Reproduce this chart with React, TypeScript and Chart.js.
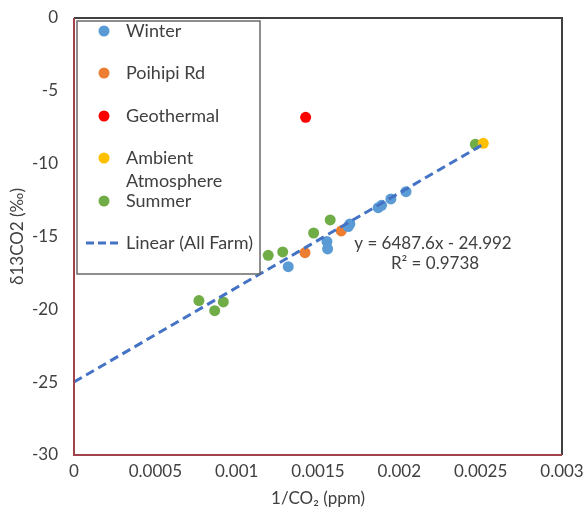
import React, { useEffect, useRef } from 'react';
import { Chart, registerables } from 'chart.js';

Chart.register(...registerables);

// ---- data ----
const winterX = [0.001317, 0.001555, 0.001559, 0.001686, 0.001696, 0.00187, 0.001891, 0.001948, 0.002041];
const winterY = [-17.07, -15.35, -15.85, -14.32, -14.14, -13.02, -12.86, -12.42, -11.92];

const poihipiX = [0.00142, 0.001643];
const poihipiY = [-16.11, -14.62];

const geothermalX = [0.001424];
const geothermalY = [-6.82];

const ambientX = [0.002516];
const ambientY = [-8.6];

const summerX = [0.000768, 0.000865, 0.000918, 0.001194, 0.001283, 0.001473, 0.001575, 0.002467];
const summerY = [-19.4, -20.09, -19.49, -16.29, -16.06, -14.76, -13.86, -8.67];

const trendX = [0, 0.00252];
const trendY = [-24.99, -8.64];

const seriesNames = ['Winter', 'Poihipi Rd', 'Geothermal', 'Ambient Atmosphere', 'Summer', 'Linear (All Farm)'];
const xTickLabels = ['0', '0.0005', '0.001', '0.0015', '0.002', '0.0025', '0.003'];
const yTickLabels = ['-30', '-25', '-20', '-15', '-10', '-5', '0'];
const xTitle = '1/CO\u2082 (ppm)';
const yTitle = '\u03B413CO2 (\u2030)';
const equationLines = ['y = 6487.6x - 24.992', 'R\u00B2 = 0.9738'];

const colors = ['#5B9BD5', '#ED7D31', '#FF0000', '#FFC000', '#70AD47', '#4472C4'];

const FONT = "Lato, 'Open Sans', 'DejaVu Sans', sans-serif";
const TEXT = '#404040';

const zip = (xs: number[], ys: number[]) => xs.map((x, i) => ({ x, y: ys[i] }));

const decorPlugin = {
  id: 'decor',
  afterDraw(chart: any) {
    const ctx = chart.ctx as CanvasRenderingContext2D;
    const xs = chart.scales.x;
    const ys = chart.scales.y;
    const left = xs.getPixelForValue(xs.min);
    const right = xs.getPixelForValue(xs.max);
    const top = ys.getPixelForValue(ys.max);
    const bottom = ys.getPixelForValue(ys.min);
    ctx.save();
    // top and right border
    ctx.strokeStyle = '#404040';
    ctx.lineWidth = 2;
    ctx.beginPath();
    ctx.moveTo(left, top);
    ctx.lineTo(right, top);
    ctx.lineTo(right, bottom);
    ctx.stroke();
    // left and bottom (axes)
    ctx.strokeStyle = '#A0434B';
    ctx.beginPath();
    ctx.moveTo(left, top);
    ctx.lineTo(left, bottom);
    ctx.lineTo(right, bottom);
    ctx.stroke();

    // legend box
    ctx.strokeStyle = '#6A6A6A';
    ctx.lineWidth = 1.5;
    ctx.strokeRect(77, 21, 183, 253);

    ctx.font = `18px ${FONT}`;
    ctx.fillStyle = TEXT;
    ctx.textBaseline = 'middle';
    ctx.textAlign = 'left';
    const rows = [31, 73, 116, 158, 201];
    rows.forEach((yy, i) => {
      ctx.fillStyle = colors[i];
      ctx.beginPath();
      ctx.arc(104, yy, 5.5, 0, Math.PI * 2);
      ctx.fill();
      ctx.fillStyle = TEXT;
      if (i === 3) {
        const parts = seriesNames[i].split(' ');
        ctx.fillText(parts[0], 126, yy);
        ctx.fillText(parts[1], 126, 181);
      } else {
        ctx.fillText(seriesNames[i], 126, yy);
      }
    });
    // linear entry
    ctx.strokeStyle = colors[5];
    ctx.lineWidth = 3;
    ctx.setLineDash([8, 4]);
    ctx.beginPath();
    ctx.moveTo(86, 243);
    ctx.lineTo(122, 243);
    ctx.stroke();
    ctx.setLineDash([]);
    ctx.fillStyle = TEXT;
    ctx.fillText(seriesNames[5], 126, 243);

    // equation
    ctx.font = `17px ${FONT}`;
    ctx.textAlign = 'center';
    ctx.fillText(equationLines[0], 433, 244);
    ctx.fillText(equationLines[1], 435, 264);
    ctx.restore();
  },
};

export default function App() {
  const ref = useRef<HTMLCanvasElement | null>(null);

  useEffect(() => {
    document.body.style.margin = '0';
    if (!ref.current) return;
    const pointDs = (i: number, xs: number[], ys: number[]) => ({
      label: seriesNames[i],
      data: zip(xs, ys),
      backgroundColor: colors[i],
      borderColor: colors[i],
      pointRadius: 5.5,
      pointBorderWidth: 0,
      showLine: false,
      order: 1,
    });
    const chart = new Chart(ref.current, {
      type: 'scatter',
      data: {
        datasets: [
          pointDs(0, winterX, winterY),
          pointDs(1, poihipiX, poihipiY),
          pointDs(2, geothermalX, geothermalY),
          pointDs(3, ambientX, ambientY),
          pointDs(4, summerX, summerY),
          {
            label: seriesNames[5],
            type: 'line',
            data: zip(trendX, trendY),
            borderColor: colors[5],
            borderWidth: 3,
            borderDash: [9, 5],
            pointRadius: 0,
            showLine: true,
            fill: false,
            order: 0,
          } as any,
        ],
      },
      options: {
        animation: false,
        responsive: false,
        maintainAspectRatio: false,
        layout: { padding: { left: 0, right: 23, top: 18, bottom: 0 } },
        plugins: {
          legend: { display: false },
          tooltip: { enabled: false },
        },
        scales: {
          x: {
            type: 'linear',
            min: 0,
            max: 0.003,
            grid: { display: false, drawTicks: false },
            border: { display: false },
            ticks: {
              stepSize: 0.0005,
              padding: 6,
              color: TEXT,
              font: { family: FONT, size: 17 },
              maxRotation: 0,
              callback: (_v: any, i: number) => xTickLabels[i],
            },
            title: {
              display: true,
              text: xTitle,
              color: TEXT,
              font: { family: FONT, size: 17 },
              padding: { top: 0, bottom: 7 },
            },
            afterFit: (s: any) => {
              s.height = 61;
              s.paddingLeft = 0;
              s.paddingRight = 0;
            },
          },
          y: {
            type: 'linear',
            min: -30,
            max: 0,
            grid: { display: false, drawTicks: false },
            border: { display: false },
            ticks: {
              stepSize: 5,
              padding: 16,
              color: TEXT,
              font: { family: FONT, size: 17 },
              callback: (_v: any, i: number) => yTickLabels[i],
            },
            title: {
              display: true,
              text: yTitle,
              color: TEXT,
              font: { family: FONT, size: 17 },
              padding: { top: 7, bottom: 0 },
            },
            afterFit: (s: any) => {
              s.width = 74;
              s.paddingTop = 0;
              s.paddingBottom = 0;
            },
          },
        },
      },
      plugins: [decorPlugin],
    });
    return () => chart.destroy();
  }, []);

  return (
    <div style={{ width: 585, height: 516 }}>
      <canvas ref={ref} width={585} height={516} style={{ width: 585, height: 516, display: 'block' }} />
    </div>
  );
}
